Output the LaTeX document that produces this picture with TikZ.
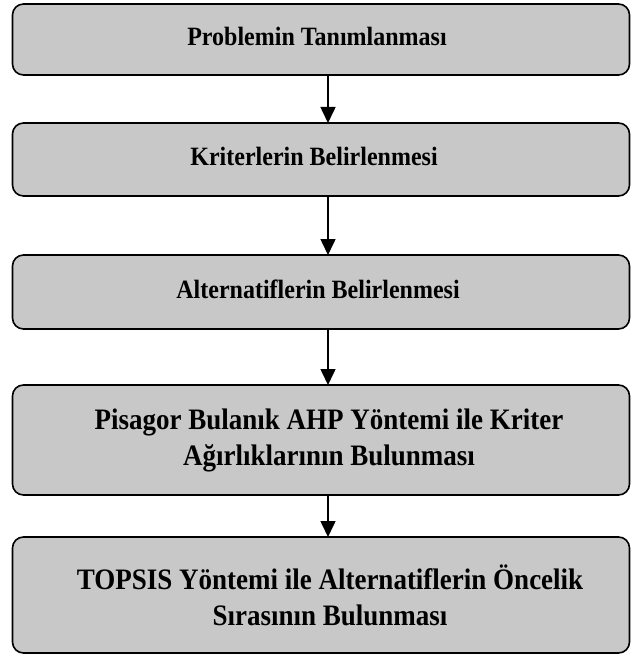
\documentclass[tikz,border=0pt]{standalone}
\usepackage{fontspec}
\usepackage{graphicx}
\setmainfont{Liberation Serif}
\usetikzlibrary{arrows.meta}
\definecolor{boxgray}{RGB}{200,200,200}
\newcommand{\tallline}[1]{\scalebox{1}[1.1]{#1}}
\tikzset{
  flowbox/.style={draw=black, line width=1.6pt, fill=boxgray, rounded corners=11pt,
    minimum width=617pt, inner sep=0pt, outer sep=0pt},
  smalltxt/.style={font=\bfseries\fontsize{24}{28}\selectfont, inner sep=0pt, anchor=base},
  bigtxt/.style={font=\bfseries\fontsize{27}{36}\selectfont, inner sep=0pt, align=center},
  flowarr/.style={draw=black, line width=1.6pt, -{Triangle[width=15pt,length=16pt]}}
}
\begin{document}
\begin{tikzpicture}[x=1pt,y=-1pt]
\useasboundingbox (0,0) rectangle (631,655);
\node[flowbox, minimum height=71pt] (b1) at (321,39.5) {};
\node[flowbox, minimum height=73pt] (b2) at (321,159.5) {};
\node[flowbox, minimum height=74pt] (b3) at (321,292) {};
\node[flowbox, minimum height=110pt] (b4) at (321,440) {};
\node[flowbox, minimum height=116pt] (b5) at (321,595) {};
\node[smalltxt] (t1) at (317,46) {\tallline{Problemin Tanımlanması}};
\node[smalltxt] (t2) at (314,166) {\tallline{Kriterlerin Belirlenmesi}};
\node[smalltxt] (t3) at (318,298) {\tallline{Alternatiflerin Belirlenmesi}};
\node[bigtxt] (t4) at (329,440) {\tallline{Pisagor Bulanık AHP Yöntemi ile Kriter}\\\tallline{Ağırlıklarının Bulunması}};
\node[bigtxt] (t5) at (330,595) {\tallline{TOPSIS Yöntemi ile Alternatiflerin Öncelik}\\\tallline{Sırasının Bulunması}};
\draw[flowarr] ([xshift=7pt]b1.south) -- ([xshift=7pt]b2.north);
\draw[flowarr] ([xshift=7pt]b2.south) -- ([xshift=7pt]b3.north);
\draw[flowarr] ([xshift=7pt]b3.south) -- ([xshift=7pt]b4.north);
\draw[flowarr] ([xshift=7pt]b4.south) -- ([xshift=7pt]b5.north);
\end{tikzpicture}
\end{document}
